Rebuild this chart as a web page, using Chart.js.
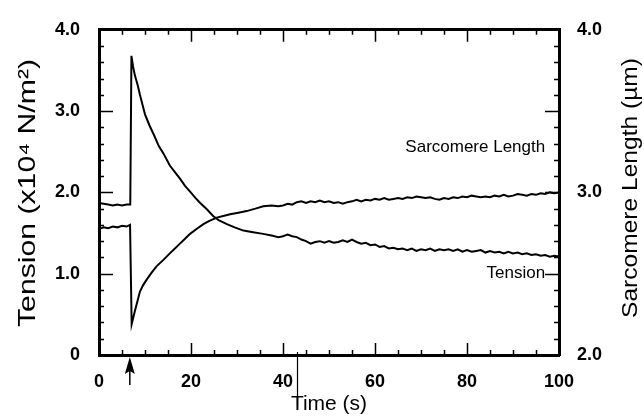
<!DOCTYPE html>
<html>
<head>
<meta charset="utf-8">
<script src="https://cdn.jsdelivr.net/npm/chart.js@4"></script>
<style>
  html, body { margin: 0; padding: 0; background: #fff; }
  #wrap { width: 644px; height: 418px; }
</style>
</head>
<body>
<div id="wrap"><canvas id="c" width="644" height="418"></canvas></div>
<script>
// ---- Data ----
const tensionTime = [0,1,2,3,4,5,6,6.8,7.05,7.4,7.8,8.4,8.9,9.5,10,11,12,13,14,15.4,16.5,17.6,18.7,19.8,21,22,23.5,24.8,26,27.8,29.5,31.4,33.5,35.7,37.5,39,
  40,41,42,43,44,45,46,47,48,49,50,51,52,53,54,55,56,57,58,59,60,61,62,63,64,65,66,67,68,69,70,71,72,73,74,75,76,77,78,79,80,81,82,83,84,85,86,87,88,89,90,91,92,93,94,95,96,97,98,99,100];
const tensionValues = [1.87,1.86,1.85,1.84,1.85,1.84,1.85,1.85,3.68,3.55,3.44,3.32,3.20,3.07,2.96,2.82,2.70,2.57,2.48,2.33,2.25,2.17,2.08,2.01,1.93,1.87,1.79,1.71,1.66,1.61,1.57,1.53,1.51,1.49,1.47,1.45,
  1.46,1.48,1.46,1.45,1.42,1.40,1.37,1.39,1.40,1.38,1.40,1.38,1.39,1.41,1.39,1.42,1.39,1.37,1.38,1.35,1.36,1.33,1.34,1.31,1.32,1.30,1.31,1.29,1.31,1.28,1.30,1.29,1.31,1.28,1.30,1.29,1.30,1.28,1.30,1.27,1.29,1.27,1.28,1.29,1.26,1.28,1.26,1.27,1.25,1.27,1.25,1.26,1.24,1.25,1.23,1.24,1.22,1.23,1.21,1.22,1.21];

const lengthTime = [0,1,2,3,4,5,6,6.75,7.1,7.5,7.8,8.4,8.9,9.6,10.4,11.4,12.5,14,15.4,16.5,17.6,18.7,19.8,21.2,22.7,24,25.6,27,28.5,30.3,32.1,34,35.7,37.5,39,
  40,41,42,43,44,45,46,47,48,49,50,51,52,53,54,55,56,57,58,59,60,61,62,63,64,65,66,67,68,69,70,71,72,73,74,75,76,77,78,79,80,81,82,83,84,85,86,87,88,89,90,91,92,93,94,95,96,97,98,99,100];
const lengthValues = [2.775,2.785,2.78,2.79,2.785,2.795,2.79,2.80,2.19,2.235,2.27,2.335,2.39,2.43,2.465,2.505,2.545,2.585,2.625,2.655,2.685,2.715,2.745,2.775,2.805,2.825,2.845,2.855,2.865,2.875,2.885,2.90,2.915,2.92,2.915,
  2.92,2.93,2.925,2.94,2.945,2.935,2.945,2.94,2.95,2.94,2.945,2.935,2.94,2.93,2.94,2.945,2.955,2.945,2.955,2.95,2.96,2.955,2.965,2.955,2.96,2.965,2.96,2.97,2.965,2.975,2.97,2.965,2.97,2.96,2.955,2.965,2.96,2.97,2.965,2.975,2.97,2.98,2.975,2.97,2.975,2.97,2.98,2.975,2.985,2.975,2.98,2.99,2.985,2.98,2.99,2.985,2.995,2.99,3.00,2.995,3.00];

const timeTickLabels = [0,20,40,60,80,100];
const tensionTickLabels = [0,1,2,3,4];
const lengthTickLabels = [2,3,4];
const stimulusTime = [6.7];   // arrow marker under the axis
const artifactTime = [43.15]; // thin vertical line crossing the time axis in the scan

const leftTitle = 'Tension (x10⁴ N/m²)';
const rightTitle = 'Sarcomere Length (µm)';

const FONT = "'Liberation Sans', Arial, Helvetica, sans-serif";

function isLabel(list, v) { return list.some(t => Math.abs(t - v) < 1e-6); }

function drawVerticalTitle(ctx, text, cx, cy, size, length) {
  ctx.save();
  ctx.font = size + 'px ' + FONT;
  ctx.fillStyle = '#000';
  ctx.textAlign = 'center';
  ctx.textBaseline = 'middle';
  const w = ctx.measureText(text).width;
  ctx.translate(cx, cy);
  ctx.rotate(-Math.PI / 2);
  ctx.scale(length / w, 1);
  ctx.fillText(text, 0, 0);
  ctx.restore();
}

const decorPlugin = {
  id: 'decor',
  afterDraw(chart) {
    const ctx = chart.ctx;
    const a = chart.chartArea;
    const xs = chart.scales.x, ys = chart.scales.y, y2 = chart.scales.y2;
    ctx.save();
    ctx.strokeStyle = '#000';
    ctx.lineWidth = 1.5;
    ctx.beginPath();
    // x ticks, bottom & top (inward)
    xs.ticks.forEach(t => {
      if (t.value <= xs.min || t.value >= xs.max) return;
      const px = Math.round(xs.getPixelForValue(t.value)) + 0.5;
      const major = Math.abs(t.value % 20) < 1e-6;
      const len = major ? 12 : 5;
      ctx.moveTo(px, a.bottom); ctx.lineTo(px, a.bottom - len);
      ctx.moveTo(px, a.top); ctx.lineTo(px, a.top + len);
    });
    // left ticks
    ys.ticks.forEach(t => {
      if (t.value <= ys.min || t.value >= ys.max) return;
      const py = Math.round(ys.getPixelForValue(t.value)) + 0.5;
      const major = Math.abs(t.value - Math.round(t.value)) < 1e-6;
      const len = major ? 14 : 5;
      ctx.moveTo(a.left, py); ctx.lineTo(a.left + len, py);
    });
    // right ticks
    y2.ticks.forEach(t => {
      if (t.value <= y2.min || t.value >= y2.max) return;
      const py = Math.round(y2.getPixelForValue(t.value)) + 0.5;
      const major = Math.abs(t.value * 2 - Math.round(t.value * 2)) < 1e-6;
      const len = major ? 14 : 5;
      ctx.moveTo(a.right, py); ctx.lineTo(a.right - len, py);
    });
    ctx.stroke();

    // artifact line
    ctx.lineWidth = 1.2;
    ctx.beginPath();
    artifactTime.forEach(t => {
      const px = Math.round(xs.getPixelForValue(t)) + 0.5;
      ctx.moveTo(px, a.bottom - 3); ctx.lineTo(px, a.bottom + 51);
    });
    ctx.stroke();

    // stimulus arrow
    stimulusTime.forEach(t => {
      const px = xs.getPixelForValue(t);
      const tip = a.bottom + 2;
      ctx.fillStyle = '#000';
      ctx.beginPath();
      ctx.moveTo(px, tip);
      ctx.lineTo(px - 5, tip + 17);
      ctx.lineTo(px, tip + 14);
      ctx.lineTo(px + 5, tip + 17);
      ctx.closePath();
      ctx.fill();
      ctx.lineWidth = 1.5;
      ctx.beginPath();
      ctx.moveTo(px, tip + 12); ctx.lineTo(px, tip + 28);
      ctx.stroke();
    });

    // series labels
    ctx.fillStyle = '#000';
    ctx.font = '17px ' + FONT;
    ctx.textAlign = 'right';
    ctx.textBaseline = 'middle';
    ctx.fillText('Sarcomere Length', xs.getPixelForValue(97), ys.getPixelForValue(2.56));
    ctx.fillText('Tension', xs.getPixelForValue(97), ys.getPixelForValue(1.0));
    ctx.restore();

    // axis titles (read bottom-to-top on both sides)
    drawVerticalTitle(ctx, leftTitle, 28, 193, 24, 268);
    drawVerticalTitle(ctx, rightTitle, 631, 188, 22, 260);
  }
};

const tickFont = { family: FONT, size: 18, weight: 'bold' };
const titleFont = { family: FONT, size: 21 };

new Chart(document.getElementById('c'), {
  type: 'line',
  data: {
    datasets: [
      {
        label: 'Tension',
        data: tensionTime.map((t, i) => ({ x: t, y: tensionValues[i] })),
        yAxisID: 'y',
        borderColor: '#000',
        borderWidth: 2,
        pointRadius: 0,
        tension: 0
      },
      {
        label: 'Sarcomere Length',
        data: lengthTime.map((t, i) => ({ x: t, y: lengthValues[i] })),
        yAxisID: 'y2',
        borderColor: '#000',
        borderWidth: 2,
        pointRadius: 0,
        tension: 0
      }
    ]
  },
  options: {
    responsive: false,
    animation: false,
    devicePixelRatio: 1,
    layout: { padding: { top: 0, left: 0, right: 0, bottom: 0 } },
    plugins: { legend: { display: false }, tooltip: { enabled: false } },
    scales: {
      x: {
        type: 'linear', position: 'bottom', min: 0, max: 100,
        ticks: {
          stepSize: 5, autoSkip: false, maxRotation: 0, color: '#000', font: tickFont, padding: 16,
          callback: v => isLabel(timeTickLabels, v) ? String(v) : ''
        },
        grid: { drawOnChartArea: false, drawTicks: false },
        border: { display: true, color: '#000', width: 3 },
        title: { display: true, text: 'Time (s)', color: '#000', font: titleFont, padding: { top: 0, bottom: 1 } },
        afterFit: s => { s.height = 63; }
      },
      xTop: {
        type: 'linear', position: 'top', min: 0, max: 100,
        ticks: { display: false },
        grid: { drawOnChartArea: false, drawTicks: false },
        border: { display: true, color: '#000', width: 3 },
        afterFit: s => { s.height = 20; }
      },
      y: {
        type: 'linear', position: 'left', min: 0, max: 4,
        ticks: {
          stepSize: 0.2, autoSkip: false, color: '#000', font: tickFont, padding: 19,
          callback: v => isLabel(tensionTickLabels, v) ? (Math.round(v) === 0 ? '0' : v.toFixed(1)) : ''
        },
        grid: { drawOnChartArea: false, drawTicks: false },
        border: { display: true, color: '#000', width: 3 },
        title: { display: false },
        afterFit: s => { s.width = 99; }
      },
      y2: {
        type: 'linear', position: 'right', min: 2, max: 4,
        ticks: {
          stepSize: 0.1, autoSkip: false, color: '#000', font: tickFont, padding: 18,
          callback: v => isLabel(lengthTickLabels, v) ? v.toFixed(1) : ''
        },
        grid: { drawOnChartArea: false, drawTicks: false },
        border: { display: true, color: '#000', width: 3 },
        title: { display: false },
        afterFit: s => { s.width = 85; }
      }
    }
  },
  plugins: [decorPlugin]
});
</script>
</body>
</html>
